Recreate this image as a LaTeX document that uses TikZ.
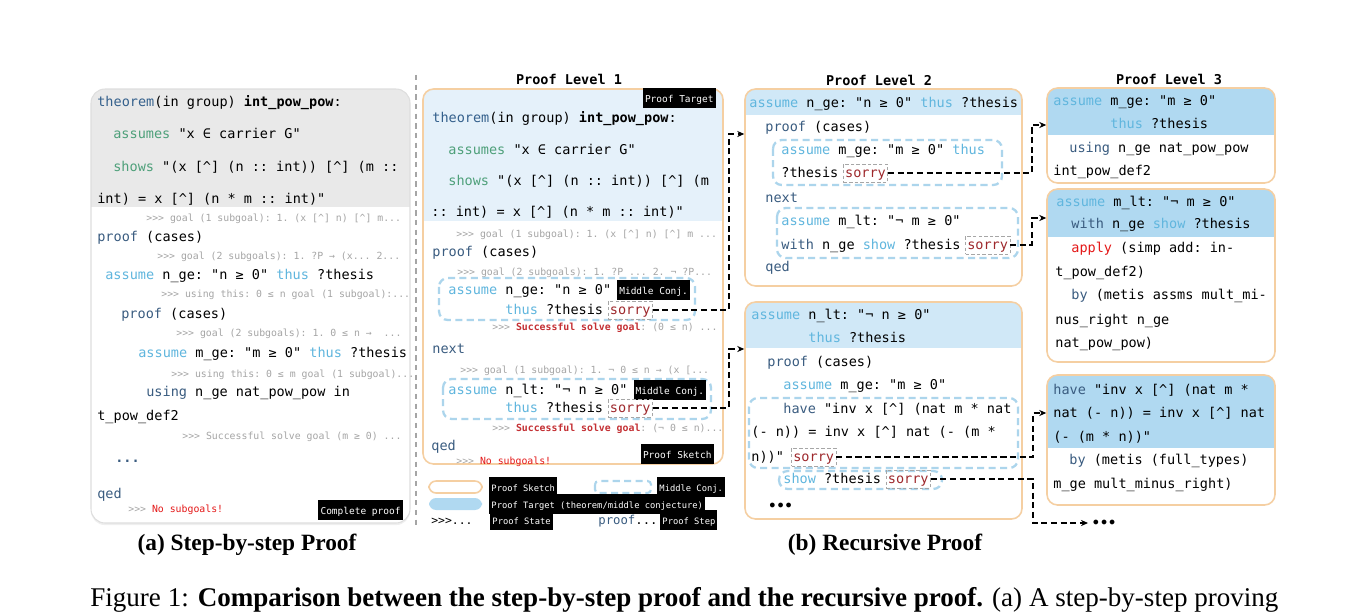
\documentclass[tikz,border=0pt]{standalone}
\usepackage{fontspec}
\setmainfont{Liberation Serif}
\setmonofont{DejaVu Sans Mono}
\usetikzlibrary{positioning, fit, shadows, arrows.meta}
\definecolor{thmblue}{RGB}{52,96,140}
\definecolor{hypgreen}{RGB}{78,160,122}
\definecolor{asmblue}{RGB}{96,182,222}
\definecolor{stepblue}{RGB}{58,92,128}
\definecolor{sorryred}{RGB}{158,40,44}
\definecolor{stategray}{RGB}{165,165,165}
\definecolor{failred}{RGB}{228,24,24}
\definecolor{solvered}{RGB}{196,48,52}
\definecolor{sketchline}{RGB}{245,207,162}
\definecolor{conjblue}{RGB}{172,213,236}
\definecolor{targetblue}{RGB}{176,217,241}
\definecolor{bandblue}{RGB}{208,232,247}
\definecolor{paleblue}{RGB}{229,241,250}
\definecolor{panelgray}{RGB}{233,233,233}
\definecolor{panelline}{RGB}{222,222,222}
\newcommand{\kwthm}[1]{\textcolor{thmblue}{#1}}
\newcommand{\kwhyp}[1]{\textcolor{hypgreen}{#1}}
\newcommand{\kwasm}[1]{\textcolor{asmblue}{#1}}
\newcommand{\kwstep}[1]{\textcolor{stepblue}{#1}}
\newcommand{\powop}{[\textasciicircum]}
\newcommand{\codefont}{\fontsize{7.7}{9}\selectfont\ttfamily}
\newcommand{\statefont}{\fontsize{5.6}{7}\selectfont\ttfamily}
\newcommand{\tagfont}{\fontsize{5.4}{6.5}\selectfont\ttfamily}

\begin{document}
\begin{tikzpicture}[
    x=0.02cm, y=-0.02cm,
    code/.style={anchor=west, inner sep=0pt, text height=1.5ex, text depth=0.3ex, font=\codefont},
    state/.style={code, font=\statefont, text=stategray},
    tag/.style={fill=black, text=white, font=\tagfont, inner sep=1.2pt, text height=1.5ex, text depth=0.35ex},
    legtag/.style={tag, font=\fontsize{5}{6}\selectfont\ttfamily},
    sorrybox/.style={code, draw=gray!70, dash pattern=on 2pt off 1.2pt, line width=0.3pt, inner sep=1pt, text=sorryred},
    title/.style={inner sep=0pt, font=\fontsize{7.7}{9}\selectfont\ttfamily\bfseries},
    sketchbox/.style={draw=sketchline, line width=0.9pt, rounded corners=6pt, inner sep=0pt, fill=white},
    band/.style 2 args={path picture={\fill[#1, sharp corners] (path picture bounding box.north west) rectangle ([yshift=-#2]path picture bounding box.north east);}},
    conj/.style={draw=conjblue, line width=1.3pt, dash pattern=on 4pt off 2.5pt, rounded corners=5pt},
    link/.style={dash pattern=on 3.5pt off 2pt, line width=0.9pt, -{Stealth[length=4pt, width=3.5pt]}},
    caption/.style={inner sep=0pt, font=\fontsize{13.3}{15}\selectfont\bfseries}
]
\useasboundingbox (0,0) rectangle (1365,615);
\fill[white] (0,0) rectangle (1365,615);

% (a) step-by-step proof
\node[fit={(91,89) (410,523)}, draw=panelline, fill=white, rounded corners=8pt, inner sep=0pt, line width=0.6pt,
      drop shadow={opacity=0.12, shadow xshift=0pt, shadow yshift=-1.2pt}, band={panelgray}{2.36cm}] (lv0) {};
\node[code] (a1) at (97,102) {\kwthm{theorem}(in group) \textbf{int\_pow\_pow}:};
\node[code] (a2) at (113,134) {\kwhyp{assumes} "x ∈ carrier G"};
\node[code] (a3) at (113,167) {\kwhyp{shows} "(x \powop{} (n :: int)) \powop{} (m ::};
\node[code] (a4) at (97,199) {int) = x \powop{} (n * m :: int)"};
\node[state] (a5) at (146,217) {>{}>{}> goal (1 subgoal): 1. (x \powop{} n) \powop{} m...};
\node[code] (a6) at (97,237) {\kwstep{proof} (cases)};
\node[state] (a7) at (157,255) {>{}>{}> goal (2 subgoals): 1. ?P → (x... 2...};
\node[code] (a8) at (105,275) {\kwasm{assume} n\_ge: "n ≥ 0" \kwasm{thus} ?thesis};
\node[state] (a9) at (161,293) {>{}>{}> using this: 0 ≤ n goal (1 subgoal):...};
\node[code] (a10) at (121,314) {\kwstep{proof} (cases)};
\node[state] (a11) at (176,332) {>{}>{}> goal (2 subgoals): 1. 0 ≤ n →\ \ ...};
\node[code] (a12) at (138,353) {\kwasm{assume} m\_ge: "m ≥ 0" \kwasm{thus} ?thesis};
\node[state] (a13) at (171,373) {>{}>{}> using this: 0 ≤ m goal (1 subgoal)...};
\node[code] (a14) at (146,392) {\kwstep{using} n\_ge nat\_pow\_pow in};
\node[code] (a15) at (97,416) {t\_pow\_def2};
\node[state] (a16) at (182,435) {>{}>{}> Successful solve goal (m ≥ 0) ...};
\node[code] (a17) at (115,458) {\kwstep{\textbf{...}}};
\node[code] (a18) at (97,494) {\kwstep{qed}};
\node[state] (a19) at (128,508) {>{}>{}> \textcolor{failred}{No subgoals!}};
\node[tag, anchor=east] (a20) at (403,510) {Complete proof};

\draw[stategray, line width=0.6pt, dash pattern=on 3pt off 2.5pt] (416,75) -- (416,528);

% proof level 1
\node[title] (t1) at (569,79) {Proof Level 1};
\node[sketchbox, fit={(423,89) (723,464)}, band={paleblue}{2.64cm}] (lv1) {};
\node[tag, anchor=east] (b0) at (716,98) {Proof Target};
\node[code] (b1) at (432,118) {\kwthm{theorem}(in group) \textbf{int\_pow\_pow}:};
\node[code] (b2) at (448,150) {\kwhyp{assumes} "x ∈ carrier G"};
\node[code] (b3) at (448,181) {\kwhyp{shows} "(x \powop{} (n :: int)) \powop{} (m};
\node[code] (b4) at (431,212) {:: int) = x \powop{} (n * m :: int)"};
\node[state] (b5) at (456,233) {>{}>{}> goal (1 subgoal): 1. (x \powop{} n) \powop{} m ...};
\node[code] (b6) at (432,252) {\kwstep{proof} (cases)};
\node[state] (b7) at (457,271) {>{}>{}> goal (2 subgoals): 1. ?P ... 2. ¬ ?P...};
\draw[conj] (439,278) rectangle (695,320);
\node[code] (b8) at (448,290) {\kwasm{assume} n\_ge: "n ≥ 0"};
\node[tag, right=3pt of b8] (b8t) {Middle Conj.};
\node[code] (b9) at (505,310) {\kwasm{thus} ?thesis};
\node[sorrybox, right=2.5pt of b9] (s11) {sorry};
\node[state] (b10) at (492,326) {>{}>{}> \textcolor{solvered}{\textbf{Successful solve goal}}: (0 ≤ n) ...};
\node[code] (b11) at (432,349) {\kwstep{next}};
\node[state] (b12) at (460,369) {>{}>{}> goal (1 subgoal): 1. ¬ 0 ≤ n → (x [...};
\draw[conj] (443,379) rectangle (711,419);
\node[code] (b13) at (448,390) {\kwasm{assume} n\_lt: "¬ n ≥ 0"};
\node[tag, right=3pt of b13] (b13t) {Middle Conj.};
\node[code] (b14) at (505,408) {\kwasm{thus} ?thesis};
\node[sorrybox, right=2.5pt of b14] (s12) {sorry};
\node[state] (b15) at (492,427) {>{}>{}> \textcolor{solvered}{\textbf{Successful solve goal}}: (¬ 0 ≤ n)...};
\node[code] (b16) at (431,446) {\kwstep{qed}};
\node[state] (b17) at (456,460) {>{}>{}> \textcolor{failred}{No subgoals!}};
\node[tag, anchor=east] (b18) at (714,454) {Proof Sketch};

% legend
\node[sketchbox, rounded corners=4pt, fit={(429,481) (482,493)}] (leg1) {};
\node[legtag, anchor=west] (leg1t) at (489,487) {Proof Sketch};
\draw[conj, rounded corners=2pt, line width=1.2pt] (595,481) rectangle (651,493);
\node[legtag, anchor=west] (leg2t) at (657,487) {Middle Conj.};
\node[fit={(429,498) (482,510)}, fill=targetblue, rounded corners=4pt, inner sep=0pt] (leg3) {};
\node[legtag, anchor=west] (leg3t) at (489,504) {Proof Target (theorem/middle conjecture)};
\node[code, font=\fontsize{6.5}{8}\selectfont\ttfamily] (leg4) at (431,520) {>{}>{}>...};
\node[legtag, anchor=west] (leg4t) at (490,520) {Proof State};
\node[code, font=\fontsize{7}{8}\selectfont\ttfamily] (leg5) at (598,520) {\kwstep{proof}...};
\node[legtag, anchor=west] (leg5t) at (660,520) {Proof Step};

% proof level 2
\node[title] (t2) at (879,80) {Proof Level 2};
\node[sketchbox, fit={(745,89) (1022,286)}, band={bandblue}{0.52cm}] (lv2a) {};
\node[code] (c1) at (749,103) {\kwasm{assume} n\_ge: "n ≥ 0" \kwasm{thus} ?thesis};
\node[code] (c2) at (765,127) {\kwstep{proof} (cases)};
\draw[conj] (773,140) rectangle (1002,185);
\node[code] (c3) at (781,150) {\kwasm{assume} m\_ge: "m ≥ 0" \kwasm{thus}};
\node[code] (c4) at (781,173) {?thesis};
\node[sorrybox, right=2.5pt of c4] (s21) {sorry};
\node[code] (c5) at (765,198) {\kwstep{next}};
\draw[conj] (777,208) rectangle (1018,258);
\node[code] (c6) at (781,221) {\kwasm{assume} m\_lt: "¬ m ≥ 0"};
\node[code] (c7) at (781,245) {\kwstep{with} n\_ge \kwasm{show} ?thesis};
\node[sorrybox, right=2.5pt of c7] (s22) {sorry};
\node[code] (c8) at (765,267) {\kwstep{qed}};

\node[sketchbox, fit={(745,302) (1022,519)}, band={bandblue}{0.92cm}] (lv2b) {};
\node[code] (d1) at (751,315) {\kwasm{assume} n\_lt: "¬ n ≥ 0"};
\node[code] (d2) at (808,338) {\kwasm{thus} ?thesis};
\node[code] (d3) at (767,362) {\kwstep{proof} (cases)};
\node[code] (d4) at (783,385) {\kwasm{assume} m\_ge: "m ≥ 0"};
\draw[conj] (749,398) rectangle (1018,468);
\node[code] (d5) at (783,409) {\kwstep{have} "inv x \powop{} (nat m * nat};
\node[code] (d6) at (751,432) {(- n)) = inv x \powop{} nat (- (m *};
\node[code] (d7) at (751,457) {n))"};
\node[sorrybox, right=4pt of d7] (s23) {sorry};
\draw[conj] (779,471) rectangle (942,489);
\node[code] (d8) at (783,479) {\kwasm{show} ?thesis};
\node[sorrybox, right=2.5pt of d8] (s24) {sorry};
\node[code] (d9) at (768,506) {\textbf{•••}};

% proof level 3
\node[title] (t3) at (1169,79) {Proof Level 3};
\node[sketchbox, fit={(1047,88) (1275,183)}, band={targetblue}{0.94cm}] (lv3a) {};
\node[code] (e1) at (1053,101) {\kwasm{assume} m\_ge: "m ≥ 0"};
\node[code] (e2) at (1110,124) {\kwasm{thus} ?thesis};
\node[code] (e3) at (1069,148) {\kwstep{using} n\_ge nat\_pow\_pow};
\node[code] (e4) at (1053,171) {int\_pow\_def2};

\node[sketchbox, fit={(1047,189) (1275,362)}, band={targetblue}{0.96cm}] (lv3b) {};
\node[code] (f1) at (1056,202) {\kwasm{assume} m\_lt: "¬ m ≥ 0"};
\node[code] (f2) at (1071,224) {\kwstep{with} n\_ge \kwasm{show} ?thesis};
\node[code] (f3) at (1071,248) {\textcolor{failred}{apply} (simp add: in-};
\node[code] (f4) at (1055,272) {t\_pow\_def2)};
\node[code] (f5) at (1071,295) {\kwstep{by} (metis assms mult\_mi-};
\node[code] (f6) at (1055,320) {nus\_right n\_ge};
\node[code] (f7) at (1055,343) {nat\_pow\_pow)};

\node[sketchbox, fit={(1047,375) (1275,505)}, band={targetblue}{1.46cm}] (lv3c) {};
\node[code] (g1) at (1053,390) {\kwstep{have} "inv x \powop{} (nat m *};
\node[code] (g2) at (1053,413) {nat (- n)) = inv x \powop{} nat};
\node[code] (g3) at (1053,437) {(- (m * n))"};
\node[code] (g4) at (1069,460) {\kwstep{by} (metis (full\_types)};
\node[code] (g5) at (1053,484) {m\_ge mult\_minus\_right)};
\node[code, inner xsep=2pt] (more) at (1088,523) {\textbf{•••}};

% sorry -> next level
\coordinate (j1) at (729,134);
\coordinate (j2) at (729,349);
\coordinate (j3) at (1032,125);
\coordinate (j4) at (1032,218);
\coordinate (j5) at (1033,413);
\coordinate (j6) at (1033,523);
\draw[link] (s11.east) -| (j1) -- (j1 -| lv2a.west);
\draw[link] (s12.east) -| (j2) -- (j2 -| lv2b.west);
\draw[link] (s21.east) -| (j3) -- (j3 -| lv3a.west);
\draw[link] (s22.east) -| (j4) -- (j4 -| lv3b.west);
\draw[link] (s23.east) -| (j5) -- (j5 -| lv3c.west);
\draw[link] (s24.east) -| (j6) -- (more.west);

% captions
\node[caption] (capa) at (247,545) {(a) Step-by-step Proof};
\node[caption] (capb) at (885,545) {(b) Recursive Proof};
\node[inner sep=0pt, anchor=west, font=\fontsize{15.4}{18}\selectfont] (fig) at (90,600)
  {Figure 1: \textbf{Comparison between the step-by-step proof and the recursive proof.} (a) A step-by-step proving};
\end{tikzpicture}
\end{document}
